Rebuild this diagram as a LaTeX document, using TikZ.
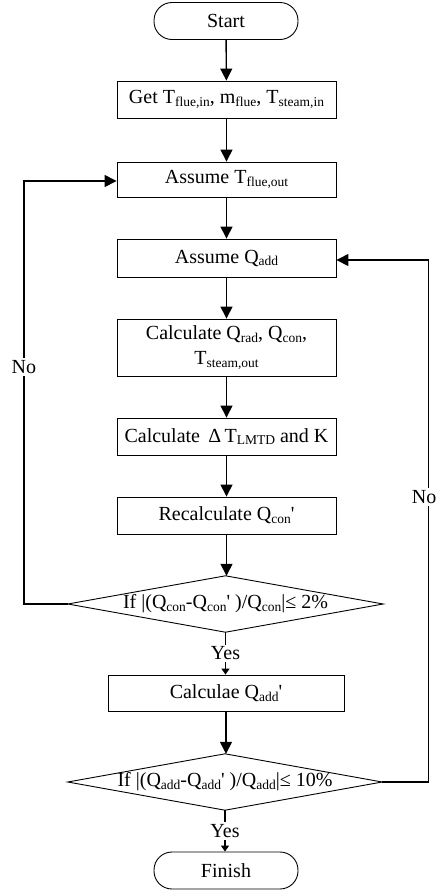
\documentclass[tikz,border=0pt]{standalone}
\usepackage{fontspec}
\setmainfont{Liberation Serif}
\usetikzlibrary{arrows.meta,calc}
\newcommand\sbs[1]{\raisebox{-0.3ex}{\fontsize{13.5}{14}\selectfont #1}}
\newcommand\aps{\textquotesingle}
\begin{document}
\begin{tikzpicture}[x=1pt,y=-1pt,
  every node/.style={font=\fontsize{20}{25}\selectfont, inner sep=0pt},
  proc/.style={draw, line width=0.9pt, minimum width=219pt, minimum height=37pt, align=center},
  term/.style={draw, line width=0.9pt, rounded corners=18pt, minimum width=144pt, minimum height=37pt},
  dec/.style={minimum width=315pt, minimum height=56pt},
  flow/.style={line width=1.4pt, -{Triangle[length=12pt,width=12pt]}},
  flowsmall/.style={line width=1.4pt, -{Triangle[length=6pt,width=8pt]}},
  lbl/.style={fill=white, inner sep=2pt}
]
\useasboundingbox (0,0) rectangle (437,892);
\node[term] (start) at (226,21) {Start};
\node[proc] (get) at (226.5,99.5) {Get T\sbs{flue,in}, m\sbs{flue}, T\sbs{steam,in}};
\node[proc, minimum height=35pt] (ast) at (226.5,179.5) {Assume T\sbs{flue,out}};
\node[proc, minimum height=38pt] (asq) at (226.5,258) {Assume Q\sbs{add}};
\node[proc, minimum height=57pt] (calc) at (226.5,347.5) {Calculate Q\sbs{rad}, Q\sbs{con},\\T\sbs{steam,out}};
\node[proc] (cdt) at (226.5,436.5) {Calculate \,Δ\,T\sbs{LMTD} and K};
\node[proc] (rec) at (226.5,515.5) {Recalculate Q\sbs{con}\aps};
\node[dec] (d1) at (225.5,604) {If |(Q\sbs{con}-Q\sbs{con}\aps\ )/Q\sbs{con}|≤ 2\%};
\draw[line width=0.9pt] (d1.north) -- (d1.east) -- (d1.south) -- (d1.west) -- cycle;
\node[proc, minimum width=236pt, minimum height=36pt] (cq) at (226,693) {Calculae Q\sbs{add}\aps};
\node[dec, minimum width=314pt] (d2) at (225,782) {If |(Q\sbs{add}-Q\sbs{add}\aps\ )/Q\sbs{add}|≤ 10\%};
\draw[line width=0.9pt] (d2.north) -- (d2.east) -- (d2.south) -- (d2.west) -- cycle;
\node[term] (fin) at (226,870.5) {Finish};

\draw[flow] (start) -- (get);
\draw[flow] (get) -- (ast);
\draw[flow] (ast) -- (asq);
\draw[flow] (asq) -- (calc);
\draw[flow] (calc) -- (cdt);
\draw[flow] (cdt) -- (rec);
\draw[flow] (rec.south) -- (rec.south |- d1.north);
\draw[flowsmall] (d1.south) -- node[lbl] {Yes} (d1.south |- cq.north);
\draw[flow] (cq.south) -- (cq.south |- d2.north);
\draw[flowsmall] (d2.south) -- node[lbl] {Yes} (d2.south |- fin.north);
\draw[flow] (d1.west) -- ++(-44,0) |- node[lbl, pos=0.28] {No} ($(ast.west)+(0,1.5)$);
\draw[flow] (d2.east) -- ++(46,0) |- node[lbl, pos=0.273, xshift=-4pt, inner xsep=1pt] {No} ($(asq.east)+(0,2)$);
\end{tikzpicture}
\end{document}
